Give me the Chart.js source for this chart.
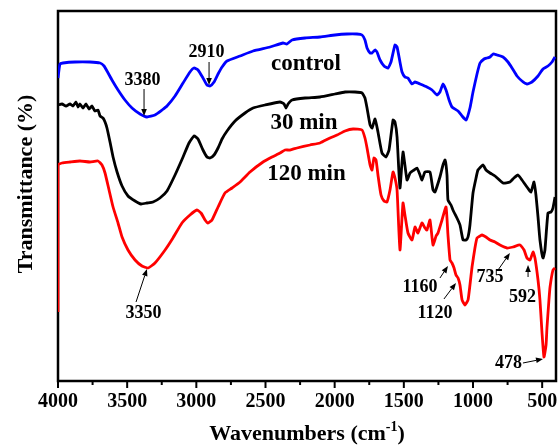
<!DOCTYPE html>
<html>
<head>
<meta charset="utf-8">
<script src="https://cdn.jsdelivr.net/npm/chart.js@4.4.1/dist/chart.umd.min.js"></script>
<style>
html,body{margin:0;padding:0;background:#fff;}
#wrap{width:560px;height:446px;}
</style>
</head>
<body>
<div id="wrap"><canvas id="c" width="560" height="446"></canvas></div>
<script>
// ---- data (wavenumber in cm-1, transmittance in arbitrary offset units) ----
const controlWave = [4000,3986,3964,3877,3769,3696,3667,3646,3610,3566,3516,3465,3407,3357,3299,3248,3212,3154,3096,3046,3017,2988,2952,2923,2901,2872,2843,2814,2778,2684,2590,2467,2373,2345,2308,2214,2106,1998,1911,1839,1802,1781,1766,1744,1730,1708,1694,1672,1643,1614,1593,1564,1549,1528,1513,1492,1470,1441,1419,1383,1333,1296,1260,1239,1217,1195,1173,1152,1108,1079,1050,1022,1000,971,949,920,899,877,855,826,783,747,718,682,646,610,574,530,494,458,429,407];
const controlT = [303,317,318,319,319,318,315,310,301,291,281,273,267,264,266,271,275,285,298,309,313,311,303,296,295,299,307,314,320,325,330,334,338,337,341,343,344,346,347,347,346,341,333,328,328,331,329,321,315,313,319,336,334,319,309,304,303,297,299,297,294,291,286,289,297,291,281,274,270,265,261,273,289,307,318,322,323,324,327,326,324,319,313,305,300,297,299,305,312,315,319,324];

const min30Wave = [4000,3971,3942,3913,3892,3870,3855,3841,3819,3798,3776,3754,3733,3711,3696,3675,3660,3646,3624,3602,3573,3537,3494,3443,3400,3357,3313,3263,3212,3154,3096,3053,3017,2988,2952,2923,2901,2872,2843,2814,2778,2720,2648,2590,2504,2395,2366,2352,2337,2308,2214,2106,1998,1925,1853,1802,1781,
  1766,1744,1730,1708,1687,1658,1629,1607,1578,1564,1549,1528,1506,1477,1455,1426,1405,1383,1369,1347,1311,1289,1275,1239,1217,1202,1188,1181,1159,1145,1116,1094,1072,1050,1036,1022,1000,978,964,928,906,877,841,783,733,704,675,646,610,581,559,545,530,516,494,480,458,436,422,407];
const min30T = [276,277,275,277,275,279,274,277,273,277,272,275,270,271,265,263,259,253,239,224,209,195,185,180,177,178,179,183,190,206,224,238,245,242,231,224,223,226,233,242,250,260,268,273,276,279,277,273,277,281,283,284,287,289,289,288,283,
  273,256,253,262,249,228,224,231,261,259,244,193,229,201,208,211,213,206,201,209,209,191,189,204,216,221,206,181,176,171,163,156,141,141,144,156,188,203,211,216,211,208,205,198,199,203,206,201,194,189,199,186,164,141,123,131,168,169,173,184];

const min120Wave = [4000,4000,3971,3913,3841,3769,3711,3682,3660,3631,3602,3566,3537,3494,3443,3393,3349,3299,3226,3169,3104,3046,2995,2966,2937,2916,2887,2843,2793,2742,2684,2612,2518,2453,2395,2359,2323,2272,2178,2106,2034,1983,1925,1867,1802,1781,1766,1744,1730,1716,1701,1687,1665,1643,1622,1600,1578,1564,1549,1528,1506,1492,1470,1441,1419,1398,1369,1347,1333,1311,1289,1267,1253,1224,1195,1181,1166,1152,1137,1123,1108,1094,1079,1058,1036,1022,1007,986,971,949,935,906,877,841,805,754,711,660,631,610,588,566,552,530,516,501,487,472,465,451,443,422,407];
const min120T = [69,216,218,219,220,219,220,216,208,191,174,158,144,131,121,115,113,118,131,143,158,166,171,168,161,158,161,174,188,193,199,209,219,224,228,231,231,233,236,238,243,246,250,252,251,243,233,216,211,223,221,206,186,180,179,191,209,203,191,131,178,166,148,141,154,148,158,153,151,161,136,145,148,161,174,146,121,118,113,106,103,96,81,76,81,96,114,133,143,145,146,144,141,139,136,133,134,136,131,123,121,129,123,101,81,48,24,36,54,81,94,111,113];

const seriesNames = ['control','30 min','120 min'];
const seriesColors = ['#0000ff','#000000','#ff0000'];

const majorTicks = [4000,3500,3000,2500,2000,1500,1000,500];
const minorTicks = [3750,3250,2750,2250,1750,1250,750];

// series name labels: [text, wavenumber(center), value(baseline)]
const nameLabels = [['control',2207,311],['30 min',2222,252],['120 min',2204,201]];
// peak labels: [text, wavenumber(center), value(baseline)]
const peakLabels = [['3380',3389,296],['2910',2927,324],['3350',3382,63],['1160',1383,89],['1120',1275,63],['735',877,99],['592',642,79],['478',743,13]];
// arrows: [fromWave, fromValue, toWave, toValue]
const arrows = [[3378,292,3378,265],[2908,319,2908,296],[3436,79,3357,112],[1239,103,1181,115],[1210,82,1123,98],[819,111,733,128],[602,104,602,116],[639,18,494,22]];

const FONT = '"Liberation Serif","Times New Roman",Times,serif';

function pts(w, t){ return w.map((x,i)=>({x:x, y:t[i]})); }

const decor = {
  id:'decor',
  beforeDatasetsDraw(chart){
    const {ctx, chartArea:a} = chart;
    ctx.save();
    ctx.strokeStyle = '#000';
    ctx.lineWidth = 2.5;
    ctx.strokeRect(a.left, a.top, a.right - a.left, a.bottom - a.top);
    const xs = chart.scales.x;
    ctx.lineWidth = 2;
    majorTicks.forEach(v=>{
      const p = xs.getPixelForValue(v);
      ctx.beginPath(); ctx.moveTo(p, a.bottom); ctx.lineTo(p, a.bottom + 7); ctx.stroke();
    });
    minorTicks.forEach(v=>{
      const p = xs.getPixelForValue(v);
      ctx.beginPath(); ctx.moveTo(p, a.bottom); ctx.lineTo(p, a.bottom + 4); ctx.stroke();
    });
    ctx.restore();
  },
  afterDatasetsDraw(chart){
    const {ctx} = chart;
    const xs = chart.scales.x, ys = chart.scales.y;
    ctx.save();
    ctx.fillStyle = '#000';
    ctx.textAlign = 'center';
    ctx.textBaseline = 'alphabetic';
    ctx.font = 'bold 23px ' + FONT;
    nameLabels.forEach(l=>{
      ctx.fillText(l[0], xs.getPixelForValue(l[1]), ys.getPixelForValue(l[2]));
    });
    ctx.font = 'bold 18px ' + FONT;
    peakLabels.forEach(l=>{
      ctx.fillText(l[0], xs.getPixelForValue(l[1]), ys.getPixelForValue(l[2]));
    });
    ctx.strokeStyle = '#000';
    ctx.lineWidth = 1;
    arrows.forEach(a=>{
      const x1 = xs.getPixelForValue(a[0]), y1 = ys.getPixelForValue(a[1]);
      const x2 = xs.getPixelForValue(a[2]), y2 = ys.getPixelForValue(a[3]);
      const ang = Math.atan2(y2 - y1, x2 - x1);
      const hl = 7, hw = 2.8;
      const bx = x2 - hl*Math.cos(ang), by = y2 - hl*Math.sin(ang);
      ctx.beginPath(); ctx.moveTo(x1, y1); ctx.lineTo(bx, by); ctx.stroke();
      ctx.beginPath();
      ctx.moveTo(x2, y2);
      ctx.lineTo(bx + hw*Math.sin(ang), by - hw*Math.cos(ang));
      ctx.lineTo(bx - hw*Math.sin(ang), by + hw*Math.cos(ang));
      ctx.closePath(); ctx.fill();
    });
    ctx.restore();
  },
  afterDraw(chart){
    const {ctx, chartArea:a} = chart;
    ctx.save();
    ctx.fillStyle = '#000';
    ctx.font = 'bold 22px ' + FONT;
    ctx.translate(32, 184);
    ctx.rotate(-Math.PI/2);
    ctx.textAlign = 'center';
    ctx.textBaseline = 'alphabetic';
    ctx.fillText('Transmittance (%)', 0, 0);
    ctx.restore();
    ctx.save();
    ctx.fillStyle = '#000';
    ctx.textBaseline = 'alphabetic';
    ctx.textAlign = 'left';
    const mainF = 'bold 22px ' + FONT, supF = 'bold 14px ' + FONT;
    const p1 = 'Wavenumbers (cm', sup = '-1', p3 = ')';
    ctx.font = mainF; const w1 = ctx.measureText(p1).width, w3 = ctx.measureText(p3).width;
    ctx.font = supF; const w2 = ctx.measureText(sup).width;
    const total = w1 + w2 + w3;
    const cx = (a.left + a.right)/2;
    let x = cx - total/2; const base = 440;
    ctx.font = mainF; ctx.fillText(p1, x, base); x += w1;
    ctx.font = supF; ctx.fillText(sup, x, base - 9); x += w2;
    ctx.font = mainF; ctx.fillText(p3, x, base);
    ctx.restore();
  }
};

const datasets = [
  {label: seriesNames[0], data: pts(controlWave, controlT), borderColor: seriesColors[0]},
  {label: seriesNames[1], data: pts(min30Wave, min30T), borderColor: seriesColors[1]},
  {label: seriesNames[2], data: pts(min120Wave, min120T), borderColor: seriesColors[2]}
].map(d=>Object.assign(d, {borderWidth: 2.8, pointRadius: 0, tension: 0.15, fill: false}));

new Chart(document.getElementById('c'), {
  type: 'line',
  data: {datasets},
  plugins: [decor],
  options: {
    responsive: false,
    devicePixelRatio: 1,
    animation: false,
    layout: {padding: {top: 11, right: 4, left: 0, bottom: 0}},
    plugins: {legend: {display: false}, tooltip: {enabled: false}},
    scales: {
      x: {
        type: 'linear', reverse: true, min: 400, max: 4000,
        grid: {display: false, drawTicks: false},
        border: {display: false},
        afterBuildTicks: (s)=>{ s.ticks = majorTicks.concat(minorTicks).sort((a,b)=>a-b).map(v=>({value:v})); },
        afterFit: (s)=>{ s.height = 65; },
        ticks: {
          autoSkip: false, maxRotation: 0, minRotation: 0, padding: 9, color: '#000',
          font: {family: FONT, size: 20, weight: 'bold'},
          callback: (v)=> majorTicks.includes(v) ? String(v) : ''
        }
      },
      y: {
        type: 'linear', min: 0, max: 370,
        grid: {display: false, drawTicks: false},
        border: {display: false},
        ticks: {display: false},
        afterFit: (s)=>{ s.width = 58; }
      }
    }
  }
});
</script>
</body>
</html>
